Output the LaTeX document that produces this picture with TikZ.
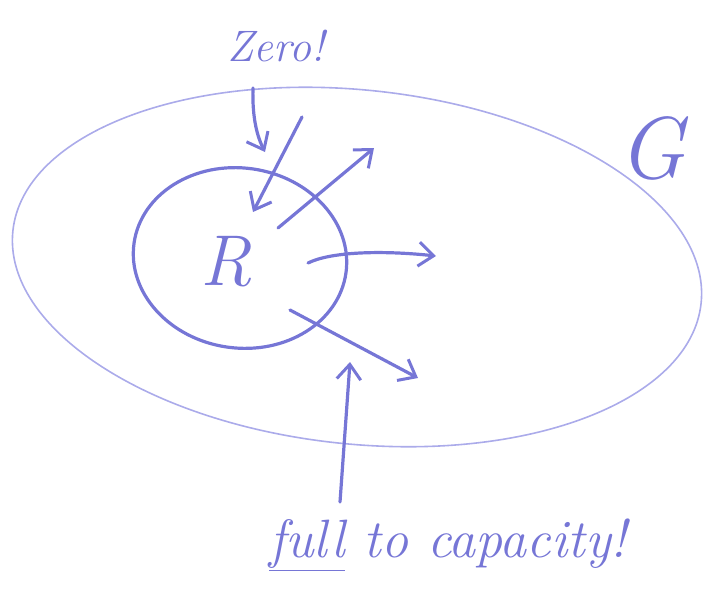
\documentclass[tikz,border=0pt]{standalone}
\usetikzlibrary{arrows.meta}
\definecolor{pen}{HTML}{7676D6}
\definecolor{penlight}{HTML}{ABABEA}
\begin{document}
\begin{tikzpicture}[x=1pt,y=-1pt,
  stroke/.style={draw=pen,line width=3.2pt,line cap=round,line join=round},
  arr/.style={stroke,-{Straight Barb[length=15pt,width=24pt,line width=3pt]}},
  hand/.style={text=pen,font=\itshape}]
\useasboundingbox (0,0) rectangle (707,600);
% big set G
\draw[draw=penlight,line width=1.6pt] (357,267) ellipse[x radius=346,y radius=177,rotate=-6];
\node[hand,font=\itshape\fontsize{88}{88}\selectfont] (G) at (652,148) {G};
% set R
\draw[stroke] (240,258) ellipse[x radius=107,y radius=90,rotate=-8];
\node[hand,font=\itshape\fontsize{72}{72}\selectfont] (R) at (226,262) {R};
% labels
\node[hand,font=\itshape\fontsize{44}{44}\selectfont] (zero) at (276,46) {Zero!};
\node[hand,font=\itshape\fontsize{54}{54}\selectfont,inner sep=2pt] (full) at (448,545) {\underline{full} to capacity!};
% arrows
\coordinate (z0) at (253,88);
\coordinate (z1) at (265,152);
\draw[arr] (z0) .. controls (252,120) and (258,138) .. (z1);
\coordinate (a0) at (302,117);
\coordinate (a1) at (253,212);
\draw[arr] (a0) -- (a1);
\coordinate (b0) at (278,228);
\coordinate (b1) at (374,148);
\draw[arr] (b0) -- (b1);
\coordinate (c0) at (308,263);
\coordinate (c1) at (436,256);
\draw[arr] (c0) .. controls (330,252) and (380,250) .. (c1);
\coordinate (d0) at (290,310);
\coordinate (d1) at (418,378);
\draw[arr] (d0) -- (d1);
\coordinate (e0) at (340,502);
\coordinate (e1) at (350,362);
\draw[arr] (e0) -- (e1);
\end{tikzpicture}
\end{document}
